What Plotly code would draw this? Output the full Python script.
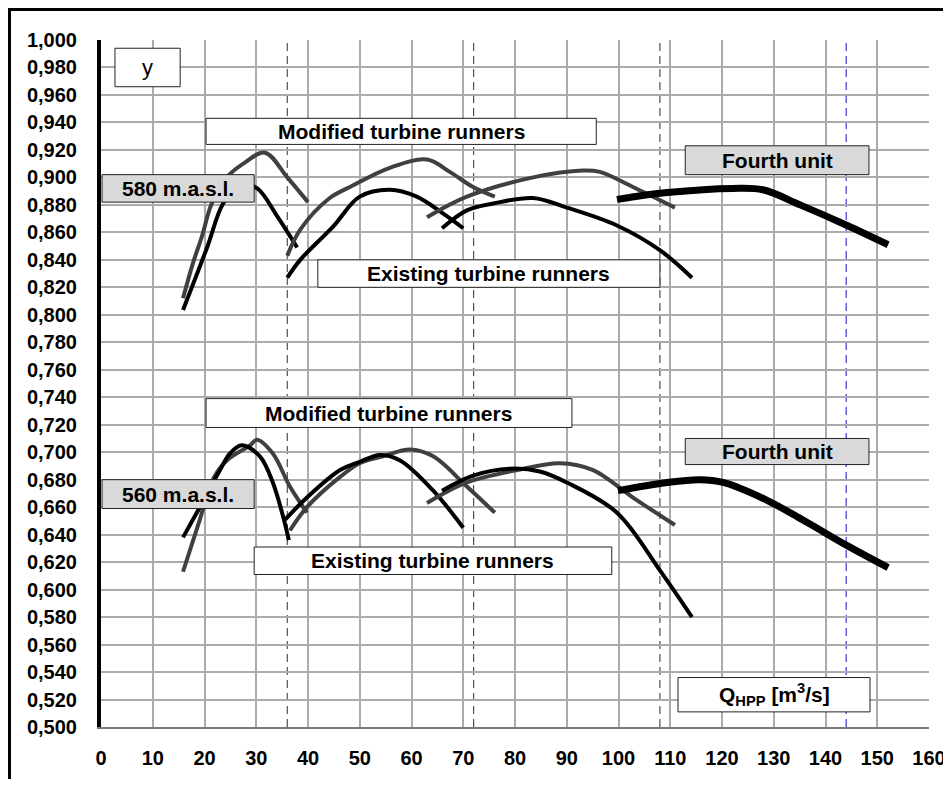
import plotly.graph_objects as go

# ---- data ----
# 580 m.a.s.l. group
up_exist1_x = [15.85, 20.5, 23.6, 27.0, 30.2, 34.0, 37.9]
up_exist1_y = [0.8035, 0.849, 0.881, 0.895, 0.892, 0.872, 0.849]
up_mod1_x = [15.85, 17.8, 19.5, 21.4, 24.3, 27.5, 31.7, 36.0, 40.0]
up_mod1_y = [0.812, 0.838, 0.857, 0.881, 0.900, 0.910, 0.918, 0.900, 0.882]
up_exist2_x = [36.0, 38.5, 44.8, 50.0, 55.8, 61.0, 66.0, 70.0]
up_exist2_y = [0.827, 0.840, 0.864, 0.886, 0.891, 0.886, 0.874, 0.863]
up_mod2_x = [36.0, 38.5, 44.2, 48.1, 55.8, 63.0, 67.4, 71.9, 76.1]
up_mod2_y = [0.843, 0.862, 0.885, 0.893, 0.907, 0.913, 0.904, 0.893, 0.886]
up_mod3_x = [63.0, 70.7, 83.5, 93.1, 96.4, 102.8, 110.9]
up_mod3_y = [0.871, 0.886, 0.900, 0.905, 0.904, 0.893, 0.878]
up_exist3_x = [65.9, 70.7, 75.8, 83.5, 90.0, 99.7, 108.0, 114.2]
up_exist3_y = [0.863, 0.876, 0.881, 0.885, 0.878, 0.865, 0.847, 0.827]
up_fourth_x = [99.7, 109.4, 122.1, 127.9, 135.1, 144.2, 152.1]
up_fourth_y = [0.884, 0.889, 0.892, 0.891, 0.880, 0.865, 0.851]

# 560 m.a.s.l. group
lo_exist1_x = [15.85, 19.1, 23.0, 24.9, 27.2, 30.7, 33.2, 35.2, 36.3]
lo_exist1_y = [0.638, 0.660, 0.687, 0.699, 0.705, 0.697, 0.678, 0.653, 0.636]
lo_mod1_x = [15.85, 19.1, 21.6, 24.3, 28.8, 30.1, 33.2, 36.5, 39.8]
lo_mod1_y = [0.613, 0.651, 0.680, 0.694, 0.705, 0.709, 0.699, 0.675, 0.656]
lo_exist2_x = [35.6, 39.8, 46.2, 50.0, 53.9, 57.8, 64.2, 70.0]
lo_exist2_y = [0.651, 0.667, 0.687, 0.693, 0.698, 0.694, 0.672, 0.645]
lo_mod2_x = [36.5, 39.8, 46.2, 50.0, 54.5, 59.7, 64.2, 70.7, 76.1]
lo_mod2_y = [0.643, 0.660, 0.682, 0.692, 0.697, 0.702, 0.697, 0.675, 0.656]
lo_mod3_x = [63.0, 70.7, 80.4, 88.7, 95.1, 102.8, 110.9]
lo_mod3_y = [0.663, 0.678, 0.687, 0.692, 0.687, 0.667, 0.647]
lo_exist3_x = [65.9, 71.9, 79.0, 84.8, 90.0, 99.7, 108.0, 114.2]
lo_exist3_y = [0.672, 0.683, 0.688, 0.686, 0.678, 0.656, 0.614, 0.580]
lo_fourth_x = [99.9, 109.4, 115.7, 120.2, 128.7, 136.4, 144.2, 152.1]
lo_fourth_y = [0.672, 0.678, 0.680, 0.678, 0.665, 0.649, 0.632, 0.616]

x_ticks = list(range(0, 161, 10))
unit_limits = [36, 72, 108]
max_flow = 144

BLACK = "#000000"
GRAY = "#404040"
FONT = "Arial, Liberation Sans, sans-serif"

fig = go.Figure()

def add(x, y, color, width):
    fig.add_trace(go.Scatter(x=x, y=y, mode="lines",
                             line=dict(color=color, width=width, shape="spline"),
                             hoverinfo="skip", showlegend=False))

add(up_mod1_x, up_mod1_y, GRAY, 4)
add(up_exist1_x, up_exist1_y, BLACK, 4)
add(up_mod2_x, up_mod2_y, GRAY, 4)
add(up_exist2_x, up_exist2_y, BLACK, 4)
add(up_mod3_x, up_mod3_y, GRAY, 4)
add(up_exist3_x, up_exist3_y, BLACK, 4)
add(up_fourth_x, up_fourth_y, BLACK, 7)
add(lo_mod1_x, lo_mod1_y, GRAY, 4)
add(lo_exist1_x, lo_exist1_y, BLACK, 4)
add(lo_mod2_x, lo_mod2_y, GRAY, 4)
add(lo_exist2_x, lo_exist2_y, BLACK, 4)
add(lo_mod3_x, lo_mod3_y, GRAY, 4)
add(lo_exist3_x, lo_exist3_y, BLACK, 4)
add(lo_fourth_x, lo_fourth_y, BLACK, 7)

shapes = []
for xv in unit_limits:
    shapes.append(dict(type="line", xref="x", yref="paper", x0=xv, x1=xv, y0=0, y1=1,
                       line=dict(color="#505050", width=1.2, dash="8px,5px"), layer="between"))
shapes.append(dict(type="line", xref="x", yref="paper", x0=max_flow, x1=max_flow, y0=0, y1=1,
                   line=dict(color="#3838c8", width=1.2, dash="8px,5px"), layer="between"))

# outer frame (cut by the picture edge at right and bottom)
shapes.append(dict(type="rect", xref="paper", yref="paper", x0=-0.1105, x1=1.2, y0=-0.3, y1=1.0444,
                   line=dict(color="black", width=3), fillcolor="rgba(0,0,0,0)", layer="above"))

boxes = [
    # x0, x1, y0, y1, fill, text, bold, size
    (2.7, 15.3, 0.966, 0.994, "white", "y", False, 22),
    (20.3, 95.7, 0.924, 0.943, "white", "Modified turbine runners", True, 21),
    (0.2, 29.6, 0.882, 0.902, "#d9d9d9", "580 m.a.s.l.", True, 21),
    (41.9, 108.0, 0.820, 0.840, "white", "Existing turbine runners", True, 21),
    (112.9, 148.4, 0.902, 0.923, "#d9d9d9", "Fourth unit", True, 21),
    (20.3, 91.0, 0.718, 0.739, "white", "Modified turbine runners", True, 21),
    (0.2, 29.6, 0.659, 0.680, "#d9d9d9", "560 m.a.s.l.", True, 21),
    (29.6, 98.7, 0.611, 0.631, "white", "Existing turbine runners", True, 21),
    (112.9, 148.4, 0.691, 0.710, "#d9d9d9", "Fourth unit", True, 21),
    (111.5, 148.6, 0.511, 0.536, "white", "Q<sub>HPP</sub> [m<sup>3</sup>/s]", True, 21),
]
annotations = []
for x0, x1, y0, y1, fill, text, bold, size in boxes:
    shapes.append(dict(type="rect", xref="x", yref="y", x0=x0, x1=x1, y0=y0, y1=y1,
                       line=dict(color="#222222", width=1), fillcolor=fill, layer="above"))
    annotations.append(dict(x=(x0 + x1) / 2, y=(y0 + y1) / 2, xref="x", yref="y",
                            text=text, showarrow=False,
                            font=dict(family=FONT, size=size, color="black",
                                      weight="bold" if bold else "normal")))

fig.update_layout(
    width=943, height=771,
    margin=dict(l=93, r=22, t=32, b=52, autoexpand=False),
    paper_bgcolor="white", plot_bgcolor="white",
    separators=", ",
    shapes=shapes, annotations=annotations,
    showlegend=False, hovermode=False,
    font=dict(family=FONT, size=20, color="black"),
)
fig.update_xaxes(range=[0, 160], tickvals=x_ticks, ticks="", showgrid=True,
                 gridcolor="#ababab", gridwidth=1.5, zeroline=False,
                 showline=True, linecolor="#7a7a7a", linewidth=2,
                 tickfont=dict(family=FONT, size=20, weight="bold"),
                 ticklabelstandoff=12, automargin=False, ticklabeloverflow="allow")
fig.update_yaxes(range=[0.5, 1.0], dtick=0.02, tick0=0.5, tickformat=".3f", ticks="",
                 showgrid=True, gridcolor="#ababab", gridwidth=1.5, zeroline=False,
                 showline=True, linecolor="black", linewidth=4,
                 tickfont=dict(family=FONT, size=20, weight="bold"),
                 ticklabelstandoff=16, automargin=False)

fig.write_html("out.html")
